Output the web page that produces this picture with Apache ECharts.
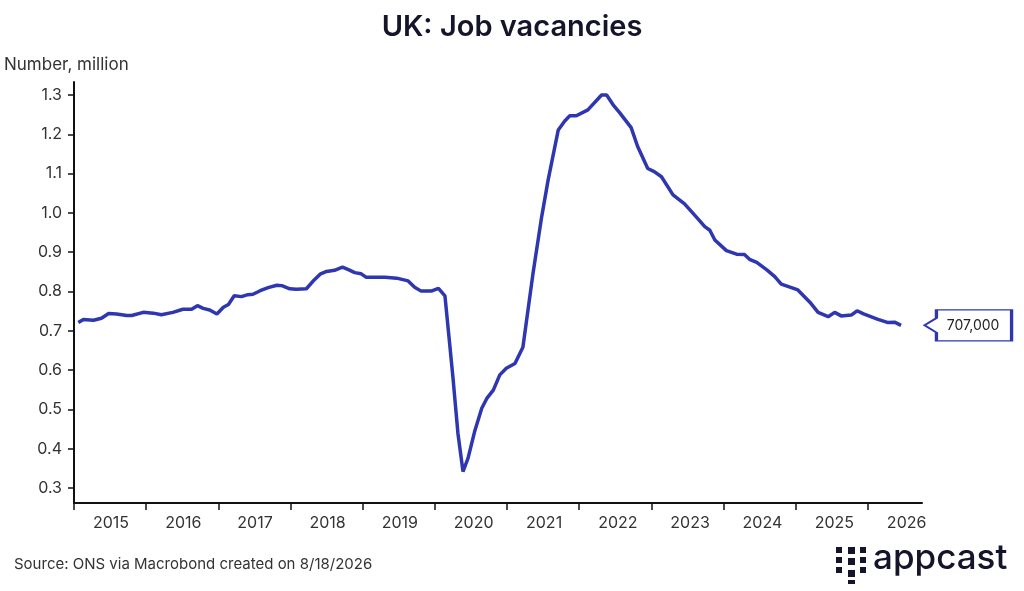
<!DOCTYPE html>
<html><head><meta charset="utf-8">
<script src="https://cdn.jsdelivr.net/npm/echarts@6/dist/echarts.min.js"></script>
<style>html,body{margin:0;padding:0;background:#fff}#c{width:1024px;height:591px}</style>
</head><body><div id="c"></div>
<script>
// decimal years and vacancies (million)
const times = [2015.06,2015.13,2015.27,2015.38,2015.48,2015.59,2015.73,2015.80,2015.96,2016.10,2016.21,2016.37,2016.51,2016.63,2016.71,2016.79,2016.88,2016.98,2017.07,2017.14,2017.22,2017.32,2017.41,2017.48,2017.58,2017.69,2017.81,2017.88,2017.99,2018.08,2018.22,2018.31,2018.41,2018.50,2018.61,2018.72,2018.81,2018.89,2018.98,2019.05,2019.31,2019.47,2019.63,2019.72,2019.81,2019.95,2020.05,2020.14,2020.25,2020.32,2020.39,2020.46,2020.55,2020.65,2020.72,2020.81,2020.90,2020.99,2021.11,2021.22,2021.36,2021.48,2021.57,2021.71,2021.80,2021.87,2021.96,2022.12,2022.31,2022.38,2022.47,2022.56,2022.72,2022.81,2022.95,2023.04,2023.14,2023.30,2023.46,2023.64,2023.74,2023.81,2023.88,2024.04,2024.18,2024.29,2024.36,2024.46,2024.60,2024.71,2024.80,2025.03,2025.21,2025.31,2025.45,2025.54,2025.63,2025.77,2025.85,2025.94,2026.14,2026.28,2026.37,2026.46];
const vacancies = [0.721,0.729,0.727,0.732,0.744,0.743,0.739,0.739,0.747,0.745,0.741,0.747,0.755,0.755,0.764,0.757,0.753,0.743,0.760,0.767,0.789,0.787,0.792,0.793,0.802,0.810,0.816,0.815,0.807,0.806,0.807,0.826,0.844,0.851,0.854,0.862,0.855,0.848,0.845,0.836,0.836,0.834,0.827,0.811,0.801,0.801,0.808,0.789,0.583,0.439,0.342,0.376,0.443,0.503,0.528,0.549,0.588,0.605,0.617,0.658,0.846,0.990,1.084,1.211,1.234,1.247,1.247,1.262,1.300,1.300,1.275,1.255,1.217,1.169,1.113,1.105,1.092,1.046,1.023,0.986,0.965,0.956,0.931,0.904,0.895,0.894,0.882,0.874,0.855,0.838,0.819,0.804,0.770,0.747,0.736,0.747,0.738,0.740,0.751,0.743,0.729,0.721,0.722,0.714];
const yearTicks = [2015,2016,2017,2018,2019,2020,2021,2022,2023,2024,2025,2026];
const yTicks = [0.3,0.4,0.5,0.6,0.7,0.8,0.9,1.0,1.1,1.2,1.3];
const lastLabel = '707,000';

const navy = '#14142b', blue = '#2e36b0';
const chart = echarts.init(document.getElementById('c'));
const pts = times.map((t,i)=>[t,vacancies[i]]);
chart.setOption({
  animation:false,
  title:{text:'UK: Job vacancies',left:'center',top:8,textStyle:{fontFamily:'Inter',fontWeight:600,fontSize:29,color:navy}},
  grid:[
    {left:74,top:82,width:848,bottom:88},
    {left:74,top:95,width:848,height:393}
  ],
  xAxis:[
    {type:'value',gridIndex:0,min:2015,max:2026.75,interval:1,
     axisLine:{lineStyle:{color:'#111',width:2}},
     axisTick:{show:true,length:7,lineStyle:{color:'#111',width:1.5}},
     axisLabel:{align:'left',padding:[0,0,0,19],margin:12,fontSize:16,color:'#333',fontFamily:'Inter',
       showMaxLabel:false,formatter:v=>yearTicks.includes(v)?String(v):''},
     splitLine:{show:false}},
    {type:'value',gridIndex:1,min:2015,max:2026.75,show:false}
  ],
  yAxis:[
    {type:'value',gridIndex:0,min:0.262,max:1.333,axisLine:{show:true,lineStyle:{color:'#111',width:2}},
     axisTick:{show:false},axisLabel:{show:false},splitLine:{show:false}},
    {type:'value',gridIndex:1,min:0.3,max:1.3,interval:0.1,axisLine:{show:false},
     axisTick:{show:true,length:6,lineStyle:{color:'#111',width:1.5}},
     axisLabel:{margin:12,fontSize:16,color:'#333',fontFamily:'Inter',
       formatter:v=>yTicks.some(t=>Math.abs(t-v)<1e-6)?v.toFixed(1):''},
     splitLine:{show:false}}
  ],
  series:[{
    type:'line',xAxisIndex:0,yAxisIndex:0,data:pts,showSymbol:false,
    lineStyle:{color:blue,width:3.5},
    markPoint:{
      symbol:'path://M0,15 L12,8 L12,0 L88,0 L88,30 L12,30 L12,22 Z',
      symbolSize:[87,31],symbolOffset:[67,0],symbolKeepAspect:false,
      itemStyle:{color:'#fff',borderColor:blue,borderWidth:2},
      label:{show:true,position:'inside',offset:[5,0],formatter:lastLabel,color:'#222',fontSize:14,fontFamily:'Inter'},
      data:[{coord:pts[pts.length-1]}]
    }
  }],
  graphic:[
    {type:'text',left:4,top:56,style:{text:'Number, million',fontSize:17,fill:'#333',fontFamily:'Inter'}},
    {type:'text',left:14,top:557,style:{text:'Source: ONS via Macrobond created on 8/18/2026',fontSize:15,fill:'#333',fontFamily:'Inter'}},
    {type:'group',left:836,top:541,children:[
      {type:'rect',shape:{x:0,y:0,width:6,height:6},style:{fill:navy}},
      {type:'rect',shape:{x:0,y:10,width:6,height:6},style:{fill:navy}},
      {type:'rect',shape:{x:0,y:20,width:6,height:6},style:{fill:navy}},
      {type:'rect',shape:{x:12,y:0,width:7,height:7},style:{fill:navy}},
      {type:'rect',shape:{x:12,y:11,width:7,height:7},style:{fill:navy}},
      {type:'rect',shape:{x:12,y:23,width:7,height:7},style:{fill:navy}},
      {type:'rect',shape:{x:12,y:33,width:7,height:4},style:{fill:navy}},
      {type:'rect',shape:{x:24,y:0,width:6,height:6},style:{fill:navy}},
      {type:'rect',shape:{x:24,y:10,width:6,height:6},style:{fill:navy}},
      {type:'rect',shape:{x:24,y:20,width:6,height:6},style:{fill:navy}},
      {type:'text',x:37,y:-6,style:{text:'appcast',fontSize:35,fill:navy,fontFamily:'Inter',fontWeight:500}}
    ]}
  ]
});
</script></body></html>
